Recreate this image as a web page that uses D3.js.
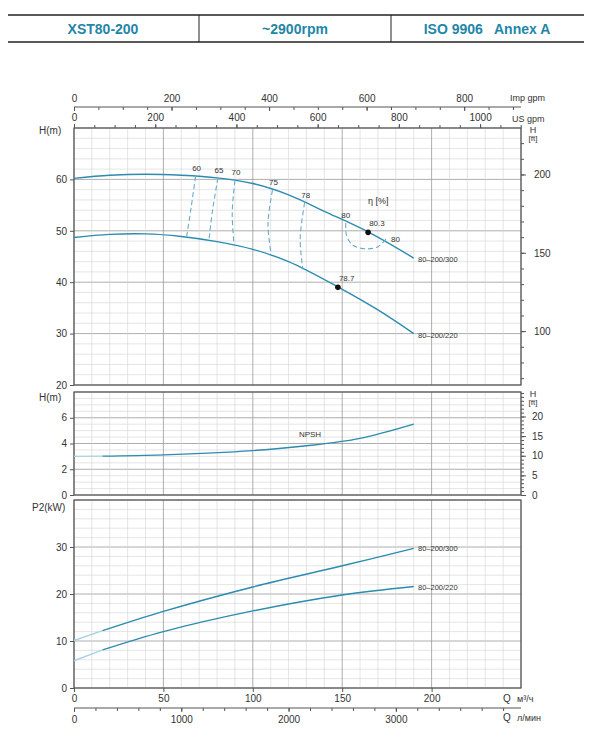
<!DOCTYPE html>
<html>
<head>
<meta charset="utf-8">
<script src="https://d3js.org/d3.v7.min.js"></script>
<style>
  body { margin:0; background:#fff; }
  text { font-family: Arial, "Liberation Sans", sans-serif; fill:#333; }
</style>
</head>
<body>
<script>
// ---------- data ----------
var headTitles = ["XST80-200", "~2900rpm", "ISO 9906   Annex A"];
var head300 = [[0,60.2],[20,60.8],[40,61],[60,60.8],[80,60.3],[100,59.2],[120,57.0],[140,53.8],[165,49.7],[190,44.7]];
var head220 = [[0,48.7],[20,49.3],[40,49.4],[60,48.9],[80,47.9],[100,46.4],[120,44.0],[148,39],[170,34.6],[190,30]];
var effLines = [
  {label:"60", pts:[[68,60.6],[65.5,54.5],[63,48.9]]},
  {label:"65", pts:[[80.5,60.3],[77.5,54],[75.5,48.3]]},
  {label:"70", pts:[[90,59.8],[88.5,53.5],[89.5,47.3]]},
  {label:"75", pts:[[111,57.9],[108.5,51.5],[110,46.0]]},
  {label:"78", pts:[[129,55.5],[126.5,48.5],[128,42.5]]}
];
var eff80 = [[152,51.5],[152.5,49],[156,47.2],[163,46.5],[170,46.9],[175.5,48.8]];
var bepPoints = [{q:164.5,h:49.7,label:"80.3"},{q:147.6,h:39,label:"78.7"}];
var npsh = [[16,3.02],[50,3.12],[100,3.45],[130,3.82],[160,4.4],[190,5.5]];
var p2_300 = [[16,12.2],[50,16.3],[100,21.5],[150,26],[190,29.7]];
var p2_220 = [[16,8.1],[50,12],[100,16.4],[150,19.8],[190,21.6]];
var p2Start300 = [[0,10.1],[16,12.2]];
var p2Start220 = [[0,5.8],[16,8.1]];
var npshStart = [[0,3.0],[16,3.02]];

var svg = d3.select("body").append("svg").attr("width",593).attr("height",743);
var blue = "#2b8bb0", pale = "#a9d2e3", dash = "#6aabcc";

// ---------- header ----------
svg.append("line").attr("x1",8).attr("x2",584).attr("y1",15).attr("y2",15).attr("stroke","#222").attr("stroke-width",1.5);
svg.append("line").attr("x1",8).attr("x2",584).attr("y1",42).attr("y2",42).attr("stroke","#222").attr("stroke-width",1.5);
[199,391].forEach(function(x){ svg.append("line").attr("x1",x).attr("x2",x).attr("y1",15).attr("y2",42).attr("stroke","#222"); });
[103,295,487].forEach(function(x,i){
  svg.append("text").attr("x",x).attr("y",34).attr("text-anchor","middle")
    .style("font-weight","bold").style("font-size","14px").style("fill","#1f86a8").attr("xml:space","preserve").text(headTitles[i]);
});

// ---------- scales ----------
var x = d3.scaleLinear().domain([0,250]).range([74,521]);
var yH = d3.scaleLinear().domain([20,70]).range([385,128]);
var yN = d3.scaleLinear().domain([0,8]).range([495,392]);
var yP = d3.scaleLinear().domain([0,40]).range([688,500]);
var fmt = d3.format("d");

function panel(y, minorStep, majorStep) {
  var g = svg.append("g");
  var d = y.domain();
  d3.range(d[0], d[1]+1e-6, minorStep).forEach(function(v){
    var major = Math.abs(v/majorStep - Math.round(v/majorStep)) < 1e-6;
    g.append("line").attr("x1",x(0)).attr("x2",x(250)).attr("y1",y(v)).attr("y2",y(v))
      .attr("stroke", major ? "#999" : "#d4d4d4").attr("stroke-width", major?0.8:0.6);
  });
  d3.range(0,251,10).forEach(function(q){
    g.append("line").attr("x1",x(q)).attr("x2",x(q)).attr("y1",y.range()[0]).attr("y2",y.range()[1])
      .attr("stroke", q%50==0 ? "#999" : "#d4d4d4").attr("stroke-width", q%50==0?0.8:0.6);
  });
  g.append("rect").attr("x",x(0)).attr("y",y.range()[1]).attr("width",x(250)-x(0))
    .attr("height",y.range()[0]-y.range()[1]).attr("fill","none").attr("stroke","#555").attr("stroke-width",1.2);
}
panel(yH, 2, 10);
panel(yN, 0.5, 2);
panel(yP, 2, 10);

function styleAxis(g){ g.selectAll("text").style("font-size","10px").style("fill","#333"); g.selectAll("line,path").attr("stroke","#555"); }

svg.append("g").attr("transform","translate(74,0)").call(d3.axisLeft(yH).tickValues([20,30,40,50,60]).tickSize(4)).call(styleAxis).select(".domain").remove();
svg.append("g").attr("transform","translate(74,0)").call(d3.axisLeft(yN).tickValues([0,2,4,6]).tickSize(4)).call(styleAxis).select(".domain").remove();
svg.append("g").attr("transform","translate(74,0)").call(d3.axisLeft(yP).tickValues([0,10,20,30]).tickSize(4)).call(styleAxis).select(".domain").remove();

// right ft axes
var ft = 0.3048;
var yHft = d3.scaleLinear().domain([20/ft,70/ft]).range([385,128]);
svg.append("g").attr("transform","translate(521,0)").call(d3.axisRight(yHft).tickValues([100,150,200]).tickSize(5).tickPadding(8)).call(styleAxis).select(".domain").remove();
svg.append("g").attr("transform","translate(521,0)").call(d3.axisRight(yHft).tickValues(d3.range(70,230,10)).tickSize(3).tickFormat("")).call(styleAxis).select(".domain").remove();
var yNft = d3.scaleLinear().domain([0,8/ft]).range([495,392]);
svg.append("g").attr("transform","translate(521,0)").call(d3.axisRight(yNft).tickValues([0,5,10,15,20]).tickSize(5).tickPadding(6)).call(styleAxis).select(".domain").remove();
svg.append("g").attr("transform","translate(521,0)").call(d3.axisRight(yNft).tickValues(d3.range(0,27,1)).tickSize(3).tickFormat("")).call(styleAxis).select(".domain").remove();

// top flow axes
var xUS = d3.scaleLinear().domain([0,250*4.403]).range([74,521]);
var xImp = d3.scaleLinear().domain([0,250*3.666]).range([74,521]);
svg.append("g").attr("transform","translate(0,128)").call(d3.axisTop(xUS).tickValues([0,200,400,600,800,1000]).tickFormat(fmt).tickSize(4).tickPadding(3)).call(styleAxis).select(".domain").remove();
svg.append("g").attr("transform","translate(0,128)").call(d3.axisTop(xUS).tickValues(d3.range(0,1101,50)).tickSize(3).tickFormat("")).call(styleAxis).select(".domain").remove();
var gi = svg.append("g").attr("transform","translate(0,107)");
gi.call(d3.axisTop(xImp).tickValues([0,200,400,600,800]).tickFormat(fmt).tickSize(-4).tickPadding(5)).call(styleAxis);
gi.select(".domain").attr("d","M74,0H521");
svg.append("g").attr("transform","translate(0,107)").call(d3.axisTop(xImp).tickValues(d3.range(0,921,50)).tickSize(-3).tickFormat("")).call(styleAxis).select(".domain").remove();

// bottom flow axes
svg.append("g").attr("transform","translate(0,688)").call(d3.axisBottom(x).tickValues([0,50,100,150,200]).tickSize(4)).call(styleAxis).select(".domain").remove();
var xL = d3.scaleLinear().domain([0,250*1000/60]).range([74,521]);
var gl = svg.append("g").attr("transform","translate(0,708)");
gl.call(d3.axisBottom(xL).tickValues([0,1000,2000,3000]).tickFormat(fmt).tickSize(4).tickPadding(4)).call(styleAxis);
gl.select(".domain").attr("d","M74,0H521");
svg.append("g").attr("transform","translate(0,708)").call(d3.axisBottom(xL).tickValues(d3.range(0,4167,200)).tickSize(3).tickFormat("")).call(styleAxis).select(".domain").remove();

function txt(xx,yy,s,size,anchor){ return svg.append("text").attr("x",xx).attr("y",yy).style("font-size",(size||9)+"px").attr("text-anchor",anchor||"start").text(s); }
txt(510,101,"Imp gpm",9); txt(512,122,"US gpm",9);
txt(533,133,"H",9,"middle"); txt(533,141,"[ft]",8,"middle");
txt(533,397,"H",9,"middle"); txt(533,405,"[ft]",8,"middle");
txt(39,134,"H(m)",10); txt(39,401,"H(m)",10); txt(32,511,"P2(kW)",10);
txt(503,702,"Q",10); txt(517,702,"м³/ч",9);
txt(503,721,"Q",10); txt(517,721,"л/мин",9);

// ---------- curves ----------
var lineH = d3.line().x(function(d){return x(d[0]);}).y(function(d){return yH(d[1]);}).curve(d3.curveCatmullRom);
var lineN = d3.line().x(function(d){return x(d[0]);}).y(function(d){return yN(d[1]);}).curve(d3.curveCatmullRom);
var lineP = d3.line().x(function(d){return x(d[0]);}).y(function(d){return yP(d[1]);}).curve(d3.curveCatmullRom);
var lineE = d3.line().x(function(d){return x(d[0]);}).y(function(d){return yH(d[1]);}).curve(d3.curveCatmullRom);

svg.append("path").attr("d",lineH(head300)).attr("fill","none").attr("stroke",blue).attr("stroke-width",1.4);
svg.append("path").attr("d",lineH(head220)).attr("fill","none").attr("stroke",blue).attr("stroke-width",1.4);

effLines.forEach(function(e){
  svg.append("path").attr("d",lineE(e.pts)).attr("fill","none").attr("stroke",dash).attr("stroke-width",1.1).attr("stroke-dasharray","5,3");
  txt(x(e.pts[0][0])+1, yH(e.pts[0][1])-5, e.label, 8, "middle");
});
svg.append("path").attr("d",lineE(eff80)).attr("fill","none").attr("stroke",dash).attr("stroke-width",1.1).attr("stroke-dasharray","5,3");
txt(x(152), yH(51.5)-5, "80", 8, "middle");
txt(x(177)+5, yH(48.8)+5, "80", 8, "middle");
txt(368, 204, "η [%]", 9);

bepPoints.forEach(function(p){
  svg.append("circle").attr("cx",x(p.q)).attr("cy",yH(p.h)).attr("r",2.8).attr("fill","#111");
  txt(x(p.q)+1, yH(p.h)-6, p.label, 8);
});
txt(418,262,"80–200/300",7.5); txt(418,338,"80–200/220",7.5);

svg.append("path").attr("d",lineN(npshStart)).attr("fill","none").attr("stroke",pale).attr("stroke-width",1.4);
svg.append("path").attr("d",lineN(npsh)).attr("fill","none").attr("stroke",blue).attr("stroke-width",1.4);
txt(310,437,"NPSH",8,"middle");

svg.append("path").attr("d",lineP(p2Start300)).attr("fill","none").attr("stroke",pale).attr("stroke-width",1.4);
svg.append("path").attr("d",lineP(p2Start220)).attr("fill","none").attr("stroke",pale).attr("stroke-width",1.4);
svg.append("path").attr("d",lineP(p2_300)).attr("fill","none").attr("stroke",blue).attr("stroke-width",1.4);
svg.append("path").attr("d",lineP(p2_220)).attr("fill","none").attr("stroke",blue).attr("stroke-width",1.4);
txt(418,551,"80–200/300",7.5); txt(418,590,"80–200/220",7.5);
</script>
</body>
</html>
